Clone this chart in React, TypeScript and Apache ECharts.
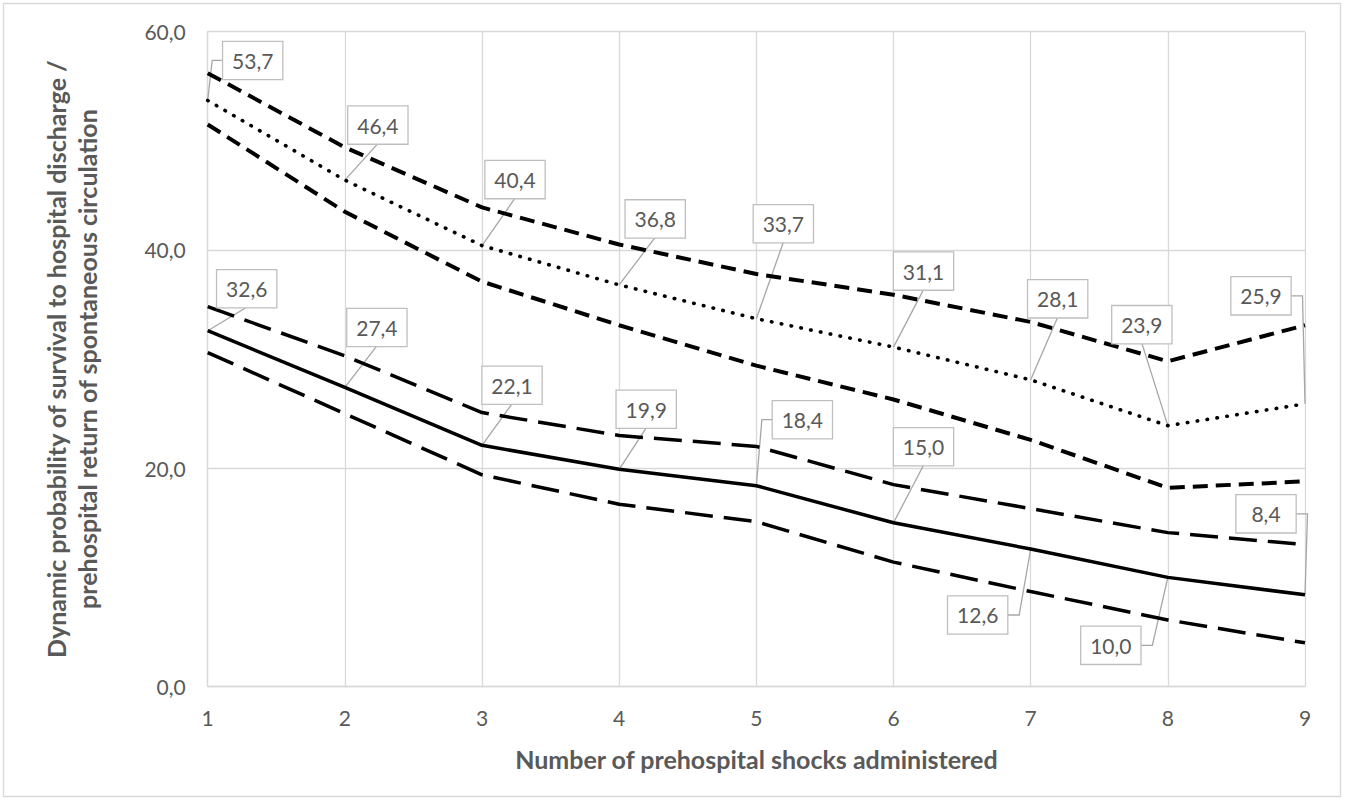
import React, { useEffect, useRef } from "react";
import * as echarts from "echarts";

// Number of prehospital shocks administered
const shocks = [1, 2, 3, 4, 5, 6, 7, 8, 9];

// Upper group (dotted estimate with short-dash confidence bounds)
const upperEstimate = [53.7, 46.4, 40.4, 36.8, 33.7, 31.1, 28.1, 23.9, 25.9];
const upperCiHigh = [56.2, 49.4, 43.9, 40.5, 37.8, 35.9, 33.4, 29.8, 33.1];
const upperCiLow = [51.5, 43.5, 37.1, 33.1, 29.4, 26.3, 22.6, 18.2, 18.8];

// Lower group (solid estimate with long-dash confidence bounds)
const lowerEstimate = [32.6, 27.4, 22.1, 19.9, 18.4, 15.0, 12.6, 10.0, 8.4];
const lowerCiHigh = [34.8, 30.3, 25.1, 23.0, 22.0, 18.5, 16.3, 14.1, 13.0];
const lowerCiLow = [30.6, 25.0, 19.4, 16.7, 15.1, 11.4, 8.7, 6.1, 4.0];

const yMin = 0;
const yMax = 60;
const yStep = 20;

const xTitle = "Number of prehospital shocks administered";
const yTitle =
  "Dynamic probability of survival to hospital discharge /\nprehospital return of spontaneous circulation";

// label box placement (pixel offsets of box centre from the point) and leader style
const upperLabelDx = [45, 33, 33, 36, 27, 30, 27, -26, -44];
const upperLabelDy = [-40, -55, -66, -66, -95, -76, -81, -101, -108];
const upperLeader = ["L", "B", "B", "B", "B", "B", "B", "B", "R"];
const lowerLabelDx = [39, 32, 30, 27, 46, 30, -53, -57, -39];
const lowerLabelDy = [-42, -60, -60, -60, -66, -76, 66, 68, -81];
const lowerLeader = ["B", "B", "B", "B", "L", "B", "R", "R", "R"];

const FONT = "Lato, 'Open Sans', sans-serif";
const GRAY = "#595959";
const GRID = "#d9d9d9";
const BOX_W = 59;
const BOX_H = 37;
const PAD_X = 9;
const PAD_Y = 6;

const fmt = (v: number) => v.toFixed(1).replace(".", ",");

export default function App() {
  const ref = useRef<HTMLDivElement>(null);

  useEffect(() => {
    if (!ref.current) return;
    const chart = echarts.init(ref.current, null, { renderer: "svg" });

    const pairs = (vals: number[]) => shocks.map((x, i) => [x, vals[i]]);

    const plain = (name: string, vals: number[], lineStyle: any) => ({
      type: "line",
      name,
      data: pairs(vals),
      showSymbol: false,
      symbol: "none",
      silent: true,
      lineStyle,
      emphasis: { disabled: true },
      z: 2,
    });

    const labeled = (
      name: string,
      vals: number[],
      lineStyle: any,
      dxs: number[],
      dys: number[]
    ) => ({
      type: "line",
      name,
      data: pairs(vals),
      showSymbol: true,
      symbol: "circle",
      symbolSize: 0.1,
      itemStyle: { color: "#000" },
      silent: true,
      lineStyle,
      emphasis: { disabled: true },
      z: 3,
      label: {
        show: true,
        position: "inside",
        formatter: (p: any) => fmt(p.value[1]),
        fontFamily: FONT,
        fontSize: 21,
        color: GRAY,
        width: BOX_W - 2 * PAD_X,
        height: BOX_H - 2 * PAD_Y,
        lineHeight: BOX_H - 2 * PAD_Y,
        align: "center",
        verticalAlign: "middle",
        backgroundColor: "#ffffff",
        borderColor: "#bfbfbf",
        borderWidth: 1.3,
        padding: [PAD_Y, PAD_X, PAD_Y, PAD_X],
      },
      labelLayout: (params: any) => {
        const i = params.dataIndex;
        const r = params.rect;
        const cx = r.x + r.width / 2;
        const cy = r.y + r.height / 2;
        return {
          x: cx + dxs[i],
          y: cy + dys[i],
          align: "center",
          verticalAlign: "middle",
        };
      },
    });

    const shortDash = { color: "#000", width: 4, type: [15, 8] };
    const dotted = { color: "#000", width: 3.6, type: [0.5, 9.5], cap: "round" };
    const longDash = { color: "#000", width: 3.5, type: [28, 11] };
    const solid = { color: "#000", width: 3.5, type: "solid" };

    const border = {
      id: "border",
      type: "rect",
      shape: { x: 3.5, y: 3.5, width: 1337, height: 793 },
      style: { fill: "none", stroke: "#d9d9d9", lineWidth: 1.3 },
      silent: true,
      z: -10,
    };

    chart.setOption({
      animation: false,
      backgroundColor: "#ffffff",
      grid: { left: 207.7, right: 42, top: 31.7, bottom: 114.5, containLabel: false },
      graphic: [border],
      xAxis: {
        type: "value",
        min: 1,
        max: 9,
        interval: 1,
        axisLine: { show: true, lineStyle: { color: GRID, width: 1.3 } },
        axisTick: { show: false },
        axisLabel: { fontFamily: FONT, fontSize: 21, color: GRAY, margin: 20 },
        splitLine: { show: true, lineStyle: { color: GRID, width: 1.3 } },
        name: xTitle,
        nameLocation: "middle",
        nameGap: 60,
        nameTextStyle: { fontFamily: FONT, fontWeight: "bold", fontSize: 25, color: GRAY },
      },
      yAxis: {
        type: "value",
        min: yMin,
        max: yMax,
        interval: yStep,
        axisLine: { show: true, lineStyle: { color: GRID, width: 1.3 } },
        axisTick: { show: false },
        axisLabel: {
          fontFamily: FONT,
          fontSize: 21,
          color: GRAY,
          margin: 22,
          formatter: (v: number) => fmt(v),
        },
        splitLine: { show: true, lineStyle: { color: GRID, width: 1.3 } },
        name: yTitle,
        nameLocation: "middle",
        nameGap: 105,
        nameRotate: 90,
        nameTextStyle: {
          fontFamily: FONT,
          fontWeight: "bold",
          fontSize: 25,
          color: GRAY,
          lineHeight: 31,
          align: "center",
        },
      },
      series: [
        plain("Upper bound (upper group)", upperCiHigh, shortDash),
        plain("Lower bound (upper group)", upperCiLow, shortDash),
        plain("Upper bound (lower group)", lowerCiHigh, longDash),
        plain("Lower bound (lower group)", lowerCiLow, longDash),
        labeled("Estimate (upper group)", upperEstimate, dotted, upperLabelDx, upperLabelDy),
        labeled("Estimate (lower group)", lowerEstimate, solid, lowerLabelDx, lowerLabelDy),
      ],
    });

    // leader lines, positioned through the chart's own scales
    const leaders: any[] = [];
    const addLeaders = (vals: number[], dxs: number[], dys: number[], modes: string[], tag: string) => {
      vals.forEach((v, i) => {
        const p = chart.convertToPixel({ gridIndex: 0 }, [shocks[i], v]) as number[];
        const cx = p[0];
        const cy = p[1];
        const lx = cx + dxs[i];
        const ly = cy + dys[i];
        let pts: number[][];
        const m = modes[i];
        if (m === "L") {
          pts = [
            [cx, cy],
            [lx - BOX_W / 2 - 11, ly],
            [lx - BOX_W / 2, ly],
          ];
        } else if (m === "R") {
          pts = [
            [cx, cy],
            [lx + BOX_W / 2 + 12, ly],
            [lx + BOX_W / 2, ly],
          ];
        } else {
          const by = dys[i] < 0 ? ly + BOX_H / 2 : ly - BOX_H / 2;
          pts = [
            [cx, cy],
            [lx, by],
          ];
        }
        leaders.push({
          id: `leader-${tag}-${i}`,
          type: "polyline",
          shape: { points: pts },
          style: { stroke: "#a6a6a6", lineWidth: 1.3, fill: "none" },
          silent: true,
          z: 1,
        });
      });
    };
    addLeaders(upperEstimate, upperLabelDx, upperLabelDy, upperLeader, "u");
    addLeaders(lowerEstimate, lowerLabelDx, lowerLabelDy, lowerLeader, "l");
    chart.setOption({ graphic: [border, ...leaders] });

    return () => chart.dispose();
  }, []);

  return (
    <div
      style={{
        position: "fixed",
        left: 0,
        top: 0,
        width: 1347,
        height: 801,
        background: "#ffffff",
      }}
    >
      <div ref={ref} style={{ width: 1347, height: 801 }} />
    </div>
  );
}
